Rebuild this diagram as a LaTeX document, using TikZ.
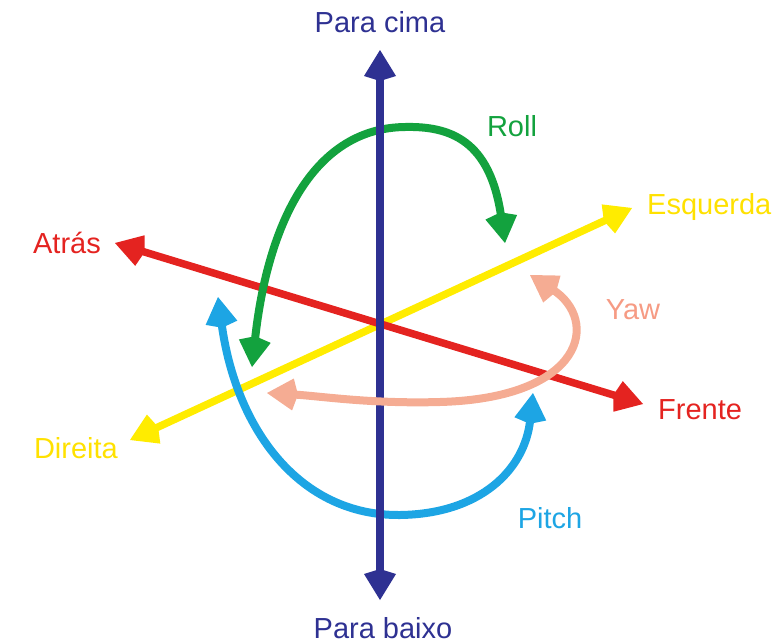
\documentclass[tikz,border=0pt]{standalone}
\usepackage{fontspec}
\setmainfont{Liberation Sans}
\usetikzlibrary{arrows.meta}
\definecolor{axisblue}{HTML}{2E3192}
\definecolor{axisred}{HTML}{E42320}
\definecolor{axisyellow}{HTML}{FFEC00}
\definecolor{rollgreen}{HTML}{13A23E}
\definecolor{pitchblue}{HTML}{1DA5E4}
\definecolor{yawpink}{HTML}{F5AC93}
\begin{document}
\begin{tikzpicture}[x=1pt,y=-1pt,
  cone/.tip={Kite[length=31pt,width=32pt,inset=5pt]},
  axis/.style={line width=7.5pt,cone-cone},
  turn/.style={line width=8pt,cone-cone},
  lbl/.style={font=\fontsize{29}{33}\selectfont,inner sep=0pt}]
  \useasboundingbox (0,0) rectangle (777,643);
  % labels
  \node[lbl,text=axisblue] (up) at (380,22) {Para cima};
  \node[lbl,text=axisblue] (down) at (383,628) {Para baixo};
  \node[lbl,text=axisred,anchor=east] (back) at (101,243) {Atrás};
  \node[lbl,text=axisred,anchor=west] (front) at (658,410) {Frente};
  \node[lbl,text=axisyellow!90!orange,anchor=west] (left) at (647,207) {Esquerda};
  \node[lbl,text=axisyellow!90!orange,anchor=east] (right) at (118,448) {Direita};
  \node[lbl,text=rollgreen] (roll) at (512,126) {Roll};
  \node[lbl,text=pitchblue] (pitch) at (550,518) {Pitch};
  \node[lbl,text=yawpink!90!red] (yaw) at (633,310) {Yaw};
  % arrow ends
  \coordinate (upTip) at (380,50);
  \coordinate (downTip) at (380,600);
  \coordinate (backTip) at (115,243);
  \coordinate (frontTip) at (643,404);
  \coordinate (leftTip) at (632,208);
  \coordinate (rightTip) at (130,440);
  \coordinate (rollA) at (505,243);
  \coordinate (rollB) at (252,367);
  \coordinate (pitchA) at (218,297);
  \coordinate (pitchB) at (533,393);
  \coordinate (yawA) at (530,275);
  \coordinate (yawB) at (267,393);
  % axes and turns
  \draw[axis,axisyellow] (rightTip) -- (leftTip);
  \draw[axis,axisred] (backTip) -- (frontTip);
  \draw[turn,pitchblue] (pitchA) .. controls (236,430) and (300,516) .. (400,515)
    .. controls (480,514) and (525,470) .. (pitchB);
  \draw[turn,rollgreen] (rollA) .. controls (490,140) and (450,126) .. (405,127)
    .. controls (315,128) and (268,220) .. (rollB);
  \draw[axis,axisblue] (upTip) -- (downTip);
  \draw[turn,yawpink] (yawA) .. controls (600,320) and (585,398) .. (440,402)
    .. controls (370,404) and (320,396) .. (yawB);
\end{tikzpicture}
\end{document}
